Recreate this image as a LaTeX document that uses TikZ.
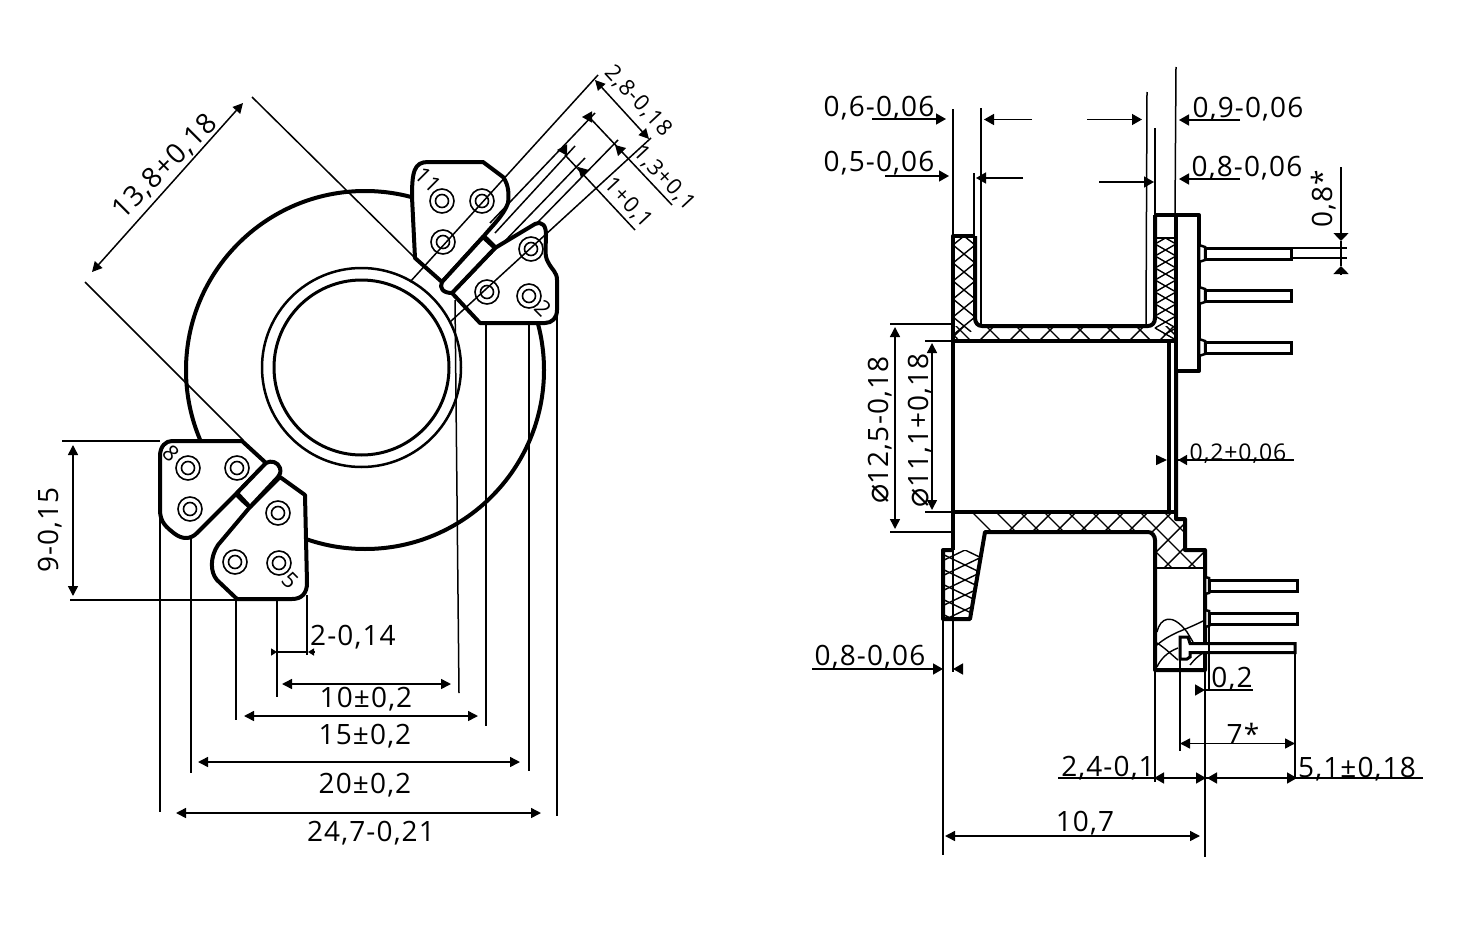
\documentclass[tikz,border=0pt]{standalone}
\usepackage{fontspec}
\setmainfont[LetterSpace=4]{Open Sans}
\newfontfamily\dejavu{DejaVu Sans}
\usetikzlibrary{arrows.meta}
\tikzset{
 thick line/.style={line width=4pt,line join=round,black},
 thin line/.style={line width=1.5pt,black},
 pin/.style={line width=3pt,fill=white,line join=miter},
 hatch/.style={line width=1.4pt},
 dim/.style={thin line,{Triangle[length=10pt,width=10pt]}-{Triangle[length=10pt,width=10pt]}},
 dimr/.style={thin line,-{Triangle[length=10pt,width=11pt]}},
 dims/.style={thin line,-{Triangle[length=6pt,width=7pt]}},
 dimw/.style={thin line,-{Triangle[length=8pt,width=15pt]}},
 lab/.style={font=\fontsize{28}{28}\selectfont,inner sep=0pt,yshift=-2pt},
 labs/.style={font=\fontsize{23}{23}\selectfont,inner sep=0pt,yshift=-2pt},
 tiny lab/.style={font=\fontsize{22}{22}\selectfont,inner sep=0pt},
}
\newcommand{\padmark}[2]{\draw[line width=1.6pt] (#1,#2) circle[radius=12] (#1,#2) circle[radius=6.5];}
\begin{document}
\begin{tikzpicture}[x=1pt,y=-1pt]
\useasboundingbox (0,0) rectangle (1459,934);
% ---------- left view ----------
\draw[line width=4pt] (365,370) circle[radius=179];
\draw[line width=3pt] (361.5,367.5) circle[radius=87.5];
\draw[line width=2.5pt] (361.5,367.5) circle[radius=99.5];
% tabs
\draw[thick line,fill=white] (412,197) .. controls (412,172) and (414,162) .. (428,162) -- (483,162) -- (503,177) .. controls (509,185) and (509,195) .. (508,203) .. controls (504,215) and (492,226) .. (483,237) -- (442,282) -- (415,258) -- cycle;
\draw[thick line,fill=white] (495,248) -- (535,224) .. controls (543,221) and (546,226) .. (546,235) .. controls (546,247) and (544,255) .. (548,262) .. controls (552,270) and (557,272) .. (557,280) -- (557,310) .. controls (557,318) and (552,323) .. (545,323) -- (480,323) -- (452,293) -- cycle;
\draw[thick line,fill=white] (483,237) -- (442,282) .. controls (439,288) and (443,293) .. (452,293) -- (495,248) -- cycle;
\draw[thick line,fill=white] (160,456) .. controls (160,446) and (166,441) .. (172,441) -- (242,441) -- (266,463) -- (237,493) -- (197,533) .. controls (190,540) and (182,539) .. (175,534) .. controls (166,527) and (160,522) .. (160,510) -- cycle;
\draw[thick line,fill=white] (280,477) -- (305,495) -- (307,583) .. controls (307,593) and (302,599) .. (292,599) -- (237,599) -- (217,580) .. controls (210,572) and (210,557) .. (218,545) -- (250,507) -- cycle;
\draw[thick line,fill=white] (266,463) .. controls (271,460) and (278,462) .. (280,468) .. controls (281,472) and (280,475) .. (278,477) -- (250,507) -- (237,493) -- cycle;
% pads
\padmark{442}{201}\padmark{482}{201}\padmark{443}{242}
\padmark{531}{249}\padmark{487}{292}\padmark{529}{296}
\padmark{188}{468}\padmark{237}{468}\padmark{190}{509}
\padmark{278}{513}\padmark{235}{562}\padmark{279}{563}
\node[tiny lab,rotate=-45] (n11) at (428,180) {11};
\node[tiny lab,rotate=-45] (n2) at (543,308) {2};
\node[tiny lab,rotate=-45] (n8) at (171,453) {8};
\node[tiny lab,rotate=-45] (n5) at (290,580) {5};
% extension lines
\draw[thin line] (252,97) -- (415,258);
\draw[thin line] (85,282) -- (243,440);
\draw[thin line] (598,75) -- (410,282);
\draw[thin line] (595,113) -- (490,223);
\draw[thin line] (575,146) -- (495,233);
\draw[thin line] (585,158) -- (503,243);
\draw[thin line] (618,140) -- (537,223);
\draw[thin line] (651,138) -- (450,322);
\draw[thin line] (455,300) -- (459,693);
\draw[thin line] (486,323) -- (486,726);
\draw[thin line] (529,323) -- (529,771);
\draw[thin line] (557,310) -- (557,816);
\draw[thin line] (160,517) -- (160,812);
\draw[thin line] (191,538) -- (191,773);
\draw[thin line] (236,599) -- (236,720);
\draw[thin line] (277,599) -- (277,697);
\draw[thin line] (307,595) -- (307,655);
\draw[thin line] (62,441) -- (160,441);
\draw[thin line] (70,600) -- (236,600);
% dims
\draw[dim] (243,103) -- (92,272);
\node[lab,rotate=45] (d1) at (165,165) {13,8+0,18};
\draw[dim] (595,80) -- (649,139);
\node[tiny lab,rotate=-47] (d2) at (638,101) {2,8-0,18};
\draw[dimr] (591,117) -- (582,117);
\draw[thin line] (590,118) -- (672,205);
\draw[dimr] (621,151) -- (615,145);
\node[tiny lab,rotate=-47] (d3) at (664,178) {1,3+0,1};
\draw[dimr] (566,150) -- (557,150);
\draw[thin line] (565,155) -- (635,230);
\draw[dimr] (584,173) -- (578,167);
\node[tiny lab,rotate=-47] (d4) at (628,203) {1+0,1};
\draw[dim] (73,445) -- (73,596);
\node[lab,rotate=90] (d5) at (50,528) {9-0,15};
\draw[thin line] (277,652) -- (307,652);
\draw[dims] (271,652) -- (277,652);
\draw[dims] (314,652) -- (308,652);
\node[lab] (d6) at (353,635) {2-0,14};
\draw[dim] (282,684) -- (451,684);
\node[lab] (d7) at (366,697) {10±0,2};
\draw[dim] (244,716) -- (478,716);
\node[lab] (d8) at (365,734) {15±0,2};
\draw[dim] (198,762) -- (520,762);
\node[lab] (d9) at (365,783) {20±0,2};
\draw[dim] (176,813) -- (541,813);
\node[lab] (d10) at (371,831) {24,7-0,21};
% ---------- right view ----------
% hatching
\begin{scope}
\clip (953,326) -- (1176,326) -- (1176,341) -- (953,341) -- cycle;
\foreach \i in {0,...,24} {\draw[hatch] (900+30*\i,300) -- (960+30*\i,360); \draw[hatch] (900+30*\i,360) -- (960+30*\i,300);}
\end{scope}
\begin{scope}
\clip (953,236) -- (975,236) -- (975,318) -- (982,326) -- (953,341) -- cycle;
\foreach \i in {0,...,7} {\draw[hatch] (953,227+18*\i) -- (975,245+18*\i); \draw[hatch] (953,245+18*\i) -- (975,227+18*\i);}
\end{scope}
\begin{scope}
\clip (1155,238) -- (1176,238) -- (1176,341) -- (1148,326) -- (1155,318) -- cycle;
\foreach \i in {0,...,9} {\draw[hatch] (1155,232+12*\i) -- (1176,244+12*\i); \draw[hatch] (1155,244+12*\i) -- (1176,232+12*\i);}
\end{scope}
\begin{scope}
\clip (953,512) -- (1176,512) -- (1176,519) -- (1185,519) -- (1185,550) -- (1205,550) -- (1205,568) -- (1155,568) -- (1155,540) -- (1148,532) -- (985,532) -- (981,550) -- (953,550) -- cycle;
\foreach \i in {0,...,18} {\draw[hatch] (960+24*\i,500) -- (1040+24*\i,580); \draw[hatch] (960+24*\i,580) -- (1040+24*\i,500);}
\end{scope}
\begin{scope}
\clip (943,550) -- (981,550) -- (970,619) -- (943,619) -- cycle;
\foreach \i in {0,...,6} {\draw[hatch] (940,538+15*\i) -- (990,562+15*\i); \draw[hatch] (940,562+15*\i) -- (990,538+15*\i);}
\end{scope}
\begin{scope}
\clip (1155,568) rectangle (1205,670);
\draw[hatch] (1157,632) .. controls (1160,618) and (1172,612) .. (1187,632) -- (1193,642);
\draw[hatch] (1157,645) .. controls (1165,638) and (1172,635) .. (1178,632) .. controls (1188,628) and (1195,625) .. (1203,621);
\draw[hatch] (1157,667) .. controls (1160,660) and (1167,652) .. (1178,648);
\draw[hatch] (1157,643) .. controls (1165,648) and (1172,655) .. (1178,660);
\draw[hatch] (1190,665) .. controls (1194,660) and (1198,656) .. (1203,653);
\end{scope}
% outlines
\draw[thick line] (975,236) -- (953,236) -- (953,550);
\draw[thick line] (975,236) -- (975,318) .. controls (975,323) and (978,326) .. (982,326) -- (1148,326) .. controls (1152,326) and (1155,323) .. (1155,318) -- (1155,215);
\draw[thick line] (1155,215) -- (1176,215);
\draw[line width=2pt] (1155,238) -- (1176,238);
\draw[thick line] (953,341) -- (1176,341);
\draw[thick line] (953,512) -- (1176,512);
\draw[thick line] (1169,341) -- (1169,512);
\draw[thick line] (1176,215) -- (1176,519) -- (1185,519) -- (1185,550) -- (1205,550) -- (1205,670) -- (1155,670) -- (1155,540) .. controls (1155,536) and (1152,532) .. (1148,532) -- (985,532) -- (970,619) -- (943,619) -- (943,550) -- (953,550);
\draw[line width=2.5pt] (1155,568) -- (1205,568);
\draw[thick line,fill=white] (1176,215) rectangle (1199,371);
% pins
\foreach \y in {248,290,342} {
 \draw[pin] (1205,\y) rectangle (1291,\y+11);
 \draw[line width=2.5pt,fill=white] (1199,\y-3) -- (1205,\y-1) -- (1205,\y+12) -- (1199,\y+14) -- cycle;
}
\foreach \y in {580,613} {
 \draw[pin] (1209,\y) rectangle (1297,\y+11);
 \draw[line width=2.5pt,fill=white] (1205,\y-3) -- (1209,\y-2) -- (1209,\y+13) -- (1205,\y+14) -- cycle;
}
\draw[line width=3pt,fill=white] (1190,643.5) -- (1295,643.5) -- (1295,652.5) -- (1190,652.5) -- (1190,657) -- (1187,659) -- (1180,659) -- (1180,637) -- (1188,637) -- cycle;
% extension lines
\draw[thin line] (953,109) -- (953,236);
\draw[thin line] (974,173) -- (974,236);
\draw[thin line] (981,108) -- (981,325);
\draw[thin line] (1147,92) -- (1146,325);
\draw[thin line] (1155,128) -- (1155,215);
\draw[thin line] (1176,67) -- (1175,215);
\draw[thin line] (1291,248) -- (1347,248);
\draw[thin line] (1291,258) -- (1347,258);
\draw[thin line] (890,324) -- (953,324);
\draw[thin line] (890,532) -- (953,532);
\draw[thin line] (925,341) -- (953,341);
\draw[thin line] (925,512) -- (953,512);
\draw[thin line] (943,619) -- (943,855);
\draw[thin line] (953,550) -- (953,672);
\draw[thin line] (1180,660) -- (1180,751);
\draw[thin line] (1205,670) -- (1205,857);
\draw[thin line] (1209,623) -- (1209,690);
\draw[thin line] (1295,652) -- (1295,778);
\draw[thin line] (1155,670) -- (1155,782);
% dims
\node[lab] (r1) at (879,106) {0,6-0,06};
\draw[dimr] (872,119) -- (946,119);
\draw[dimr] (1032,119.5) -- (984,119.5);
\draw[dimr] (1087,119.5) -- (1142,119.5);
\draw[dimr] (1240,120) -- (1179,120);
\node[lab] (r2) at (1248,107) {0,9-0,06};
\node[lab] (r3) at (879,161) {0,5-0,06};
\draw[dimr] (885,176) -- (949,176);
\draw[dimr] (1023,178) -- (976,178);
\draw[dimr] (1099,182) -- (1154,182);
\draw[dimr] (1240,179) -- (1179,179);
\node[lab] (r4) at (1247,166) {0,8-0,06};
\node[lab,rotate=90,yshift=2pt] (r5) at (1326,197) {0,8*};
\draw[dimw] (1341,167) -- (1341,241);
\draw[dimw] (1341,275) -- (1341,266);
\draw[thin line] (1341,241) -- (1341,266);
\draw[dim] (895,327) -- (895,529);
\node[lab,rotate=90] (r6) at (880,428) {{\dejavu\fontsize{32}{32}\selectfont ⌀}12,5-0,18};
\draw[dim] (932,343) -- (932,510);
\node[lab,rotate=90] (r7) at (920,428) {{\dejavu\fontsize{32}{32}\selectfont ⌀}11,1+0,18};
\draw[thin line] (1178,460) -- (1294,460);
\draw[dims,-{Triangle[length=11pt,width=10pt]}] (1156,460) -- (1167,460);
\draw[dims,-{Triangle[length=9pt,width=10pt]}] (1187,460) -- (1178,460);
\node[labs] (r8) at (1238,452) {0,2+0,06};
\node[lab] (r9) at (870,655) {0,8-0,06};
\draw[dimr] (812,669) -- (943,669);
\draw[dimr] (962,669) -- (953,669);
\node[lab] (r10) at (1232,677) {0,2};
\draw[thin line] (1205,690) -- (1253,690);
\draw[dimr] (1197,690) -- (1205,690);
\node[lab] (r11) at (1243,732) {7*};
\draw[dim] (1180,743.5) -- (1295,743.5);
\node[lab] (r12) at (1108,766) {2,4-0,1};
\draw[thin line] (1058,778) -- (1423,778);
\draw[dimr] (1163,778) -- (1154,778);
\draw[dimr] (1198,778) -- (1206,778);
\draw[dimr] (1216,778) -- (1207,778);
\draw[dimr] (1287,778) -- (1297,778);
\node[lab] (r13) at (1357,767) {5,1±0,18};
\draw[dim] (945,836) -- (1200,836);
\node[lab] (r14) at (1085,821) {10,7};
\end{tikzpicture}
\end{document}
